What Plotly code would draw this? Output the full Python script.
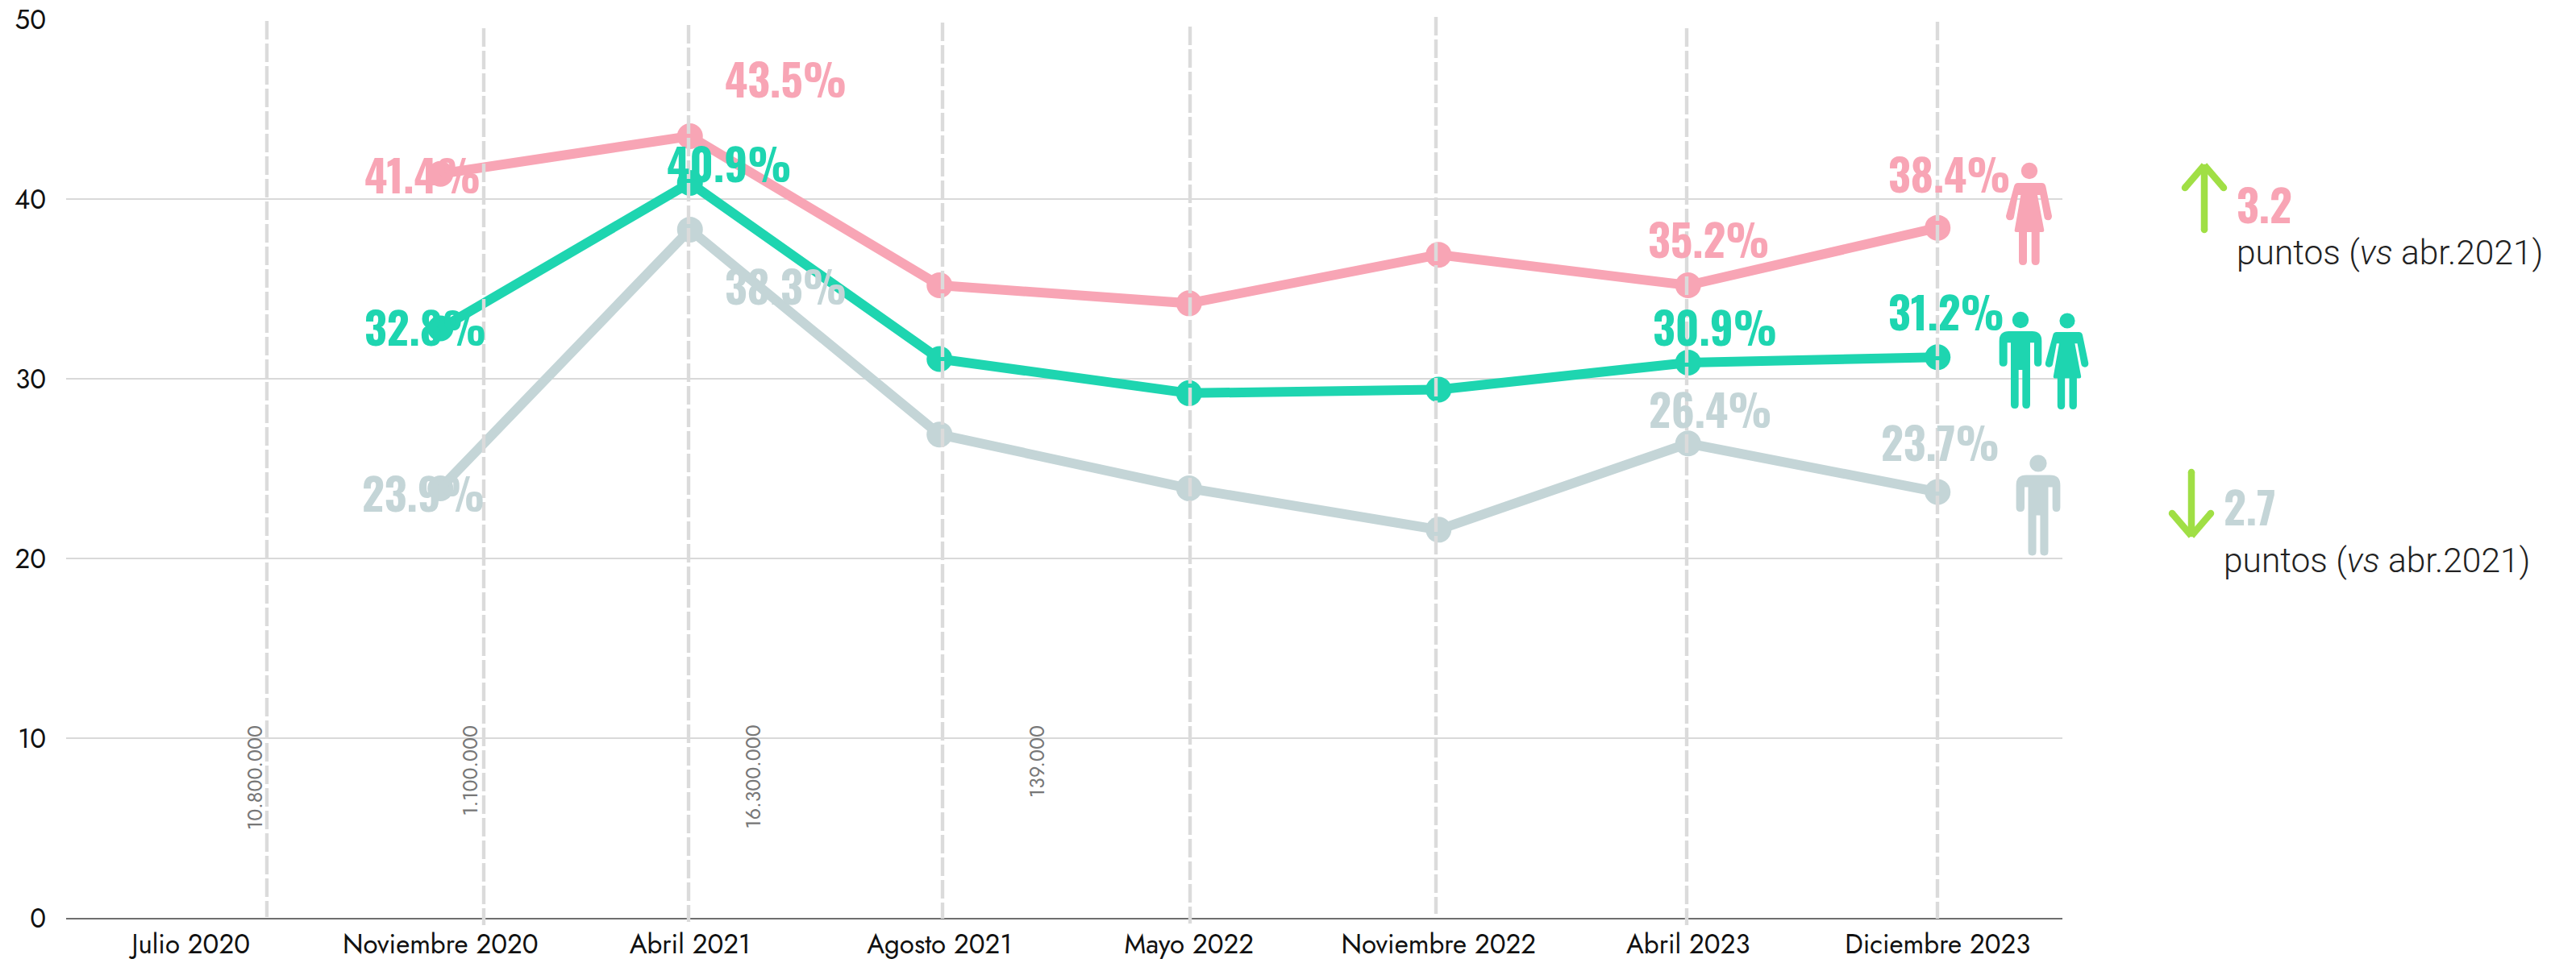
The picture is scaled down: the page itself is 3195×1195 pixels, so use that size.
import plotly.graph_objects as go

# ---------- data ----------
categories = ["Julio 2020", "Noviembre 2020", "Abril 2021", "Agosto 2021", "Mayo 2022",
              "Noviembre 2022", "Abril 2023", "Diciembre 2023"]
mujeres = [None, 41.4, 43.5, 35.2, 34.2, 36.9, 35.2, 38.4]
total = [None, 32.8, 40.9, 31.1, 29.2, 29.4, 30.9, 31.2]
hombres = [None, 23.9, 38.3, 26.9, 23.9, 21.6, 26.4, 23.7]
y_ticks = [0, 10, 20, 30, 40, 50]
sample_sizes = ["10.800.000", "1.100.000", "16.300.000", "139.000"]
delta_up = "3.2"
delta_down = "2.7"
delta_note = "puntos (<i>vs</i> abr.2021)"

# ---------- style ----------
PINK, TEAL, GREY, GREEN = "#F8A5B5", "#1ED5B0", "#C4D5D7", "#A0DF45"
W, H = 3195, 1195
L, R, T, B = 82, 2558, 24, 1139
LABEL_FONT = "Oswald, Bebas Neue, Roboto Condensed, Roboto"
TICK_FONT = "Jost, Lato"


def px(x):
    return (x - L) / (R - L)


def py(y):
    return (B - y) / (B - T)


fig = go.Figure()
for values, color in [(hombres, GREY), (mujeres, PINK), (total, TEAL)]:
    fig.add_trace(go.Scatter(x=categories, y=values, mode="lines+markers",
                             line=dict(color=color, width=12),
                             marker=dict(color=color, size=32), showlegend=False))

shapes = []
# dashed survey-wave guides: x, top, bottom in page pixels
guides = [(331, 26, 1138), (600, 35, 1148), (854, 31, 1144), (1169, 28, 1140),
          (1476, 33, 1146), (1781, 21, 1134), (2092, 35, 1148), (2403, 27, 1140)]
for gx, top, bot in guides:
    shapes.append(dict(type="line", xref="paper", yref="paper", x0=px(gx), x1=px(gx),
                       y0=py(top), y1=py(bot), line=dict(color="#DBDBDB", width=4.4, dash="23px,5px")))

# ---------- pictograms ----------
WOMAN = ("M 175 155 Q 178 142 190 142 L 278 142 Q 290 142 293 155 L 316 265 Q 316 280 302 281 "
         "Q 289 281 287 268 L 272 187 L 262 187 L 287 318 Q 287 325 280 325 L 270 325 L 270 433 "
         "Q 270 448 255 448 Q 240 448 240 433 L 240 325 L 223 325 L 223 433 Q 223 448 208 448 "
         "Q 193 448 193 433 L 193 325 L 183 325 Q 176 325 177 318 L 200 187 L 190 187 L 175 268 "
         "Q 173 281 160 281 Q 145 280 145 265 Z")
MAN = ("M 120 730 Q 120 694 156 694 L 242 694 Q 278 694 278 730 L 278 810 Q 278 825 264 825 "
       "Q 250 825 250 810 L 250 737 L 235 737 L 235 967 Q 235 982 221 982 Q 206 982 206 967 "
       "L 206 838 L 192 838 L 192 967 Q 192 982 178 982 Q 163 982 163 967 L 163 737 L 150 737 "
       "L 150 810 Q 150 825 135 825 Q 120 825 120 810 Z")


def to_page(path, ox, oy, hx, hy, scale):
    out, coords = [], []
    for tok in path.split():
        if tok.isalpha():
            out.append(tok)
        else:
            coords.append(float(tok))
            if len(coords) == 2:
                X = hx + (coords[0] - ox) / 3 * scale
                Y = hy + (coords[1] - oy) / 3 * scale
                out.append(f"{px(X):.5f},{py(Y):.5f}")
                coords = []
    return " ".join(out)


def circle(cx, cy, r, color):
    return dict(type="circle", xref="paper", yref="paper", x0=px(cx - r), x1=px(cx + r),
                y0=py(cy + r), y1=py(cy - r), fillcolor=color, line=dict(width=0))


def person(kind, hx, hy, scale, color):
    path = to_page(WOMAN, 232, 97, hx, hy, scale) if kind == "w" else to_page(MAN, 199, 652, hx, hy, scale)
    shapes.append(dict(type="path", xref="paper", yref="paper", path=path,
                       fillcolor=color, line=dict(width=0)))
    shapes.append(circle(hx, hy, 10.2 * scale, color))


person("w", 2517, 212, 1.0, PINK)
person("m", 2506, 397, 1.0, TEAL)
person("w", 2564, 398, 0.94, TEAL)
person("m", 2528, 575, 1.04, GREY)


# ---------- arrows ----------
def arrow(x, tail, tip, arm):
    d = 1 if tail > tip else -1
    for a, b in [((x, tail), (x, tip + d * 3)), ((x - 24, arm), (x, tip)), ((x + 24, arm), (x, tip))]:
        shapes.append(dict(type="line", xref="paper", yref="paper", x0=px(a[0]), y0=py(a[1]),
                           x1=px(b[0]), y1=py(b[1]), line=dict(color=GREEN, width=8.5)))
    for c in [(x, tail), (x - 24, arm), (x + 24, arm), (x, tip + d * 3)]:
        shapes.append(circle(c[0], c[1], 4.25, GREEN))


arrow(2734, 285, 205, 233)
arrow(2718, 586, 665, 637)

# ---------- annotations ----------
ann = []
# index into categories, value list, colour, x offset, y offset
labels = [(1, mujeres, PINK, -22, 0), (2, mujeres, PINK, 119, 72), (6, mujeres, PINK, 26, 58), (7, mujeres, PINK, 15, 68),
          (1, total, TEAL, -19, 3), (2, total, TEAL, 49, 25), (6, total, TEAL, 33, 45), (7, total, TEAL, 11, 57),
          (1, hombres, GREY, -21, -5), (2, hombres, GREY, 119, -69), (6, hombres, GREY, 28, 43), (7, hombres, GREY, 3, 62)]
for i, series, color, dx, dy in labels:
    ann.append(dict(x=categories[i], y=series[i], xref="x", yref="y", text=f"{series[i]:.1f}%",
                    xshift=dx, yshift=dy, showarrow=False, xanchor="center", yanchor="middle",
                    font=dict(family=LABEL_FONT, size=54, color=color, weight="bold")))

for text, x, y_top in zip(sample_sizes, [316, 582, 933, 1286], [898, 898, 898, 898]):
    ann.append(dict(x=px(x), y=py(y_top), xref="paper", yref="paper", text=text, textangle=-90,
                    showarrow=False, xanchor="center", yanchor="top",
                    font=dict(family=TICK_FONT, size=25, color="#777777", weight=400)))

for text, color, x, y_big, y_note in [(delta_up, PINK, 2772, 253, 314), (delta_down, GREY, 2756, 628, 695)]:
    ann.append(dict(x=px(x), y=py(y_big), xref="paper", yref="paper", text=text, showarrow=False,
                    xanchor="left", yanchor="middle",
                    font=dict(family=LABEL_FONT, size=54, color=color, weight="bold")))
    ann.append(dict(x=px(x), y=py(y_note), xref="paper", yref="paper", text=delta_note, showarrow=False,
                    xanchor="left", yanchor="middle",
                    font=dict(family="Roboto", size=42.5, color="#222222", weight=300)))

fig.update_layout(
    template="none",
    width=W, height=H, autosize=False,
    margin=dict(l=L, r=W - R, t=T, b=H - B, pad=0),
    paper_bgcolor="white", plot_bgcolor="white",
    shapes=shapes, annotations=ann, showlegend=False,
    xaxis=dict(type="category", categoryorder="array", categoryarray=categories, range=[-0.5, 7.5],
               automargin=False, showgrid=False, zeroline=False, showline=True, linecolor="#6E6E6E", linewidth=2,
               ticks="", ticklabelstandoff=2, tickfont=dict(family=TICK_FONT, size=33, color="#111111")),
    yaxis=dict(range=[0, 50], tickmode="array", tickvals=y_ticks, showgrid=True, gridcolor="#D9D9D9",
               automargin=False, gridwidth=2, zeroline=False, showline=False, ticks="", ticklabelstandoff=24,
               tickfont=dict(family=TICK_FONT, size=33, color="#111111")),
)

fig.write_html("out.html", config={"displayModeBar": False, "responsive": False},
               post_script="document.body.style.margin='0';")
